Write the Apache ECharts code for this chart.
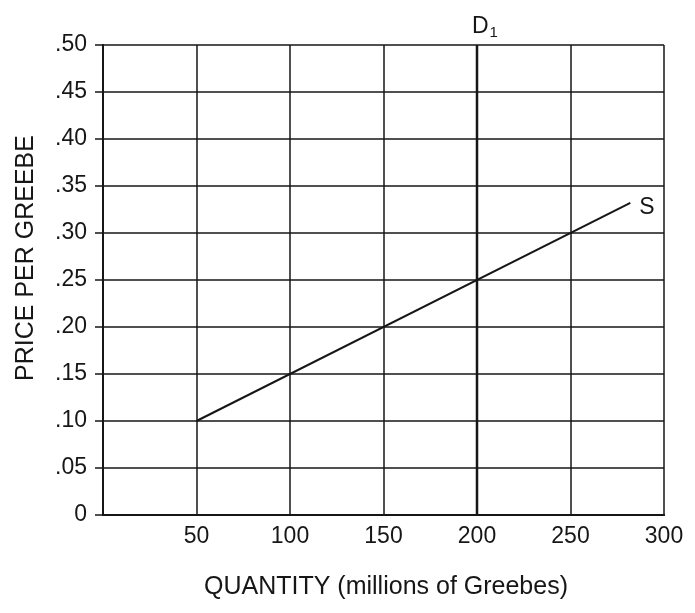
<!DOCTYPE html>
<html>
<head>
<meta charset="utf-8">
<script src="https://cdn.jsdelivr.net/npm/echarts@6/dist/echarts.min.js"></script>
<style>html,body{margin:0;padding:0;background:#fff}#c{width:695px;height:613px}</style>
</head>
<body>
<div id="c"></div>
<script>
// Data
var xTicks = [50, 100, 150, 200, 250, 300];
var yTicks = [0, 0.05, 0.10, 0.15, 0.20, 0.25, 0.30, 0.35, 0.40, 0.45, 0.50];
var supplyQ = [50, 282];
var supplyP = [0.10, 0.332];
var demandQ = [200, 200];
var demandP = [0, 0.50];
var xTitle = 'QUANTITY (millions of Greebes)';
var yTitle = 'PRICE PER GREEBE';

var FONT = 'Liberation Sans, Arial, sans-serif';
var INK = '#161616';

var supplyData = supplyQ.map(function (q, i) { return [q, supplyP[i]]; });
var demandData = demandQ.map(function (q, i) { return [q, demandP[i]]; });

var chart = echarts.init(document.getElementById('c'));
chart.setOption({
  backgroundColor: '#fff',
  animation: false,
  grid: { left: 103, right: 31, top: 45, bottom: 98 },
  xAxis: [{
    type: 'value', min: 0, max: 300, interval: 50,
    axisLine: { show: true, lineStyle: { color: INK, width: 2 } },
    axisTick: { show: false },
    axisLabel: { fontFamily: FONT, fontSize: 23, color: INK, margin: 10,
      formatter: function (v) { return xTicks.indexOf(v) >= 0 ? String(v) : ''; } },
    splitLine: { show: true, lineStyle: { color: INK, width: 1.5 } }
  }, {
    type: 'value', min: 0, max: 300, position: 'top',
    axisLine: { show: true, lineStyle: { color: INK, width: 2 } },
    axisTick: { show: false }, axisLabel: { show: false }, splitLine: { show: false }
  }],
  yAxis: [{
    type: 'value', min: 0, max: 0.5, interval: 0.05,
    axisLine: { show: true, lineStyle: { color: INK, width: 2 } },
    axisTick: { show: true, length: 8, lineStyle: { color: INK, width: 1.5 } },
    axisLabel: { fontFamily: FONT, fontSize: 23, color: INK, margin: 16,
      formatter: function (v) {
        var r = Math.round(v * 100) / 100;
        if (r === 0) return '0';
        return r.toFixed(2).replace(/^0/, '');
      } },
    splitLine: { show: true, lineStyle: { color: INK, width: 1.5 } }
  }, {
    type: 'value', min: 0, max: 0.5, position: 'right',
    axisLine: { show: true, lineStyle: { color: INK, width: 2 } },
    axisTick: { show: false }, axisLabel: { show: false }, splitLine: { show: false }
  }],
  graphic: [
    { type: 'text', x: 386, y: 587,
      style: { text: xTitle, fontFamily: FONT, fontSize: 25, fill: INK, align: 'center', verticalAlign: 'middle' } },
    { type: 'text', x: 26, y: 258, rotation: Math.PI / 2,
      style: { text: yTitle, fontFamily: FONT, fontSize: 25, fill: INK, align: 'center', verticalAlign: 'middle' } }
  ],
  series: [{
    type: 'line', name: 'S', data: supplyData, symbol: 'none', silent: true,
    lineStyle: { color: INK, width: 2 },
    endLabel: { show: true, formatter: 'S', distance: 9, offset: [0, 5],
      fontFamily: FONT, fontSize: 23, color: INK }
  }, {
    type: 'line', name: 'D1', data: demandData, symbol: 'none', silent: true,
    lineStyle: { color: INK, width: 2.5 },
    endLabel: { show: true, distance: 6, offset: [-11, -18],
      formatter: '{d|D}{s|1}',
      rich: {
        d: { fontFamily: FONT, fontSize: 23, color: INK },
        s: { fontFamily: FONT, fontSize: 15, color: INK, padding: [12, 0, 0, 1] }
      } }
  }]
});
</script>
</body>
</html>
